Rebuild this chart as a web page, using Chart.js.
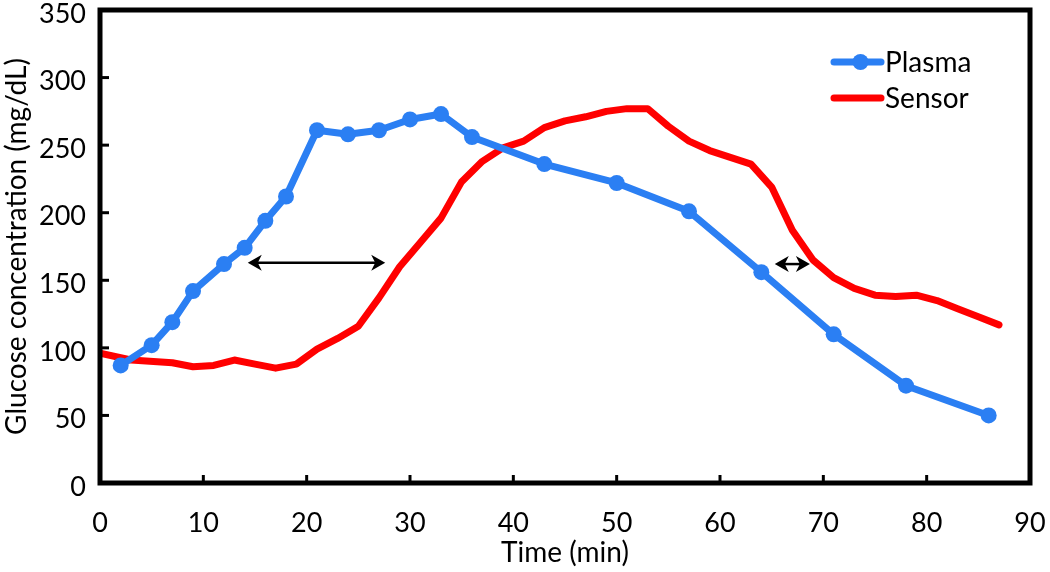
<!DOCTYPE html>
<html>
<head>
<meta charset="utf-8">
<script src="https://cdn.jsdelivr.net/npm/chart.js@4"></script>
<style>
  html, body { margin: 0; padding: 0; background: #fff; }
  #wrap { width: 1050px; height: 572px; }
</style>
</head>
<body>
<div id="wrap"><canvas id="glucoseChart" width="1050" height="572"></canvas></div>
<script>
// Plasma samples (min, mg/dL)
const plasmaTimes = [2, 5, 7, 9, 12, 14, 16, 18, 21, 24, 27, 30, 33, 36, 43, 50, 57, 64, 71, 78, 86];
const plasmaValues = [87, 102, 119, 142, 162, 174, 194, 212, 261, 258, 261, 269, 273, 256, 236, 222, 201, 156, 110, 72, 50];

// Sensor trace
const sensorTimes = [0, 3, 7, 9, 11, 13, 15, 17, 19, 21, 23, 25, 27, 29, 31, 33, 35, 37, 39, 41, 43, 45,
    47, 49, 51, 53, 55, 57, 59, 61, 63, 65, 67, 69, 71, 73, 75, 77, 79, 81, 83, 85, 87];
const sensorValues = [96, 91, 89, 86, 87, 91, 88, 85, 88, 99, 107, 116, 137, 160, 178, 196, 223, 238, 248, 253, 263, 268,
    271, 275, 277, 277, 264, 253, 246, 241, 236, 219, 187, 165, 152, 144, 139, 138, 139, 135, 129, 123, 117];

// Lag arrows (from, to, level)
const arrowFrom = [14.3, 65.3];
const arrowTo = [27.6, 68.7];
const arrowLevel = [163, 162];

// Axis ticks
const xTicks = [0, 10, 20, 30, 40, 50, 60, 70, 80, 90];
const yTicks = [0, 50, 100, 150, 200, 250, 300, 350];

const seriesNames = ['Plasma', 'Sensor'];
const BLUE = '#2b7ff3';
const RED = '#ff0000';
const FONT = 'Lato, "Open Sans", sans-serif';

function toPoints(xs, ys) {
    return xs.map((x, i) => ({ x: x, y: ys[i] }));
}

// frame, inward ticks, arrows and legend
const framePlugin = {
    id: 'frame',
    afterDatasetsDraw(chart) {
        const ctx = chart.ctx;
        const xs = chart.scales.x, ys = chart.scales.y;
        ctx.save();
        ctx.strokeStyle = '#000';
        ctx.fillStyle = '#000';
        ctx.lineWidth = 2.5;
        arrowFrom.forEach((from, i) => {
            const x1 = xs.getPixelForValue(from);
            const x2 = xs.getPixelForValue(arrowTo[i]);
            const y = ys.getPixelForValue(arrowLevel[i]);
            ctx.beginPath();
            ctx.moveTo(x1 + 4, y);
            ctx.lineTo(x2 - 4, y);
            ctx.stroke();
            [[x1, 1], [x2, -1]].forEach(([x, d]) => {
                ctx.beginPath();
                ctx.moveTo(x, y);
                ctx.lineTo(x + d * 14, y - 8);
                ctx.lineTo(x + d * 10, y);
                ctx.lineTo(x + d * 14, y + 8);
                ctx.closePath();
                ctx.fill();
            });
        });
        ctx.restore();
    },
    afterDraw(chart) {
        const ctx = chart.ctx;
        const a = chart.chartArea;
        const xs = chart.scales.x, ys = chart.scales.y;
        ctx.save();
        ctx.strokeStyle = '#000';
        ctx.lineWidth = 5;
        ctx.strokeRect(a.left, a.top, a.right - a.left, a.bottom - a.top);

        ctx.lineWidth = 3;
        xTicks.slice(1, -1).forEach(v => {
            const x = xs.getPixelForValue(v);
            ctx.beginPath();
            ctx.moveTo(x, a.bottom);
            ctx.lineTo(x, a.bottom - 8);
            ctx.stroke();
        });
        yTicks.slice(1, -1).forEach(v => {
            const y = ys.getPixelForValue(v);
            ctx.beginPath();
            ctx.moveTo(a.left, y);
            ctx.lineTo(a.left + 9, y);
            ctx.stroke();
        });

        // legend
        const lx = 834, lw = 47;
        const rows = [62, 98];
        ctx.lineCap = 'round';
        ctx.lineWidth = 7;
        chart.data.datasets.forEach((ds, i) => {
            const y = rows[i];
            ctx.strokeStyle = ds.borderColor;
            ctx.beginPath();
            ctx.moveTo(lx, y);
            ctx.lineTo(lx + lw, y);
            ctx.stroke();
            if (ds.pointRadius > 0) {
                ctx.fillStyle = ds.borderColor;
                ctx.beginPath();
                ctx.arc(lx + lw / 2 + 3, y, 8, 0, Math.PI * 2);
                ctx.fill();
            }
            ctx.fillStyle = '#000';
            ctx.font = '28px ' + FONT;
            ctx.textBaseline = 'middle';
            ctx.textAlign = 'left';
            ctx.fillText(seriesNames[i], lx + lw + 4, y + 1);
        });
        ctx.restore();
    }
};

const ctx = document.getElementById('glucoseChart').getContext('2d');

new Chart(ctx, {
    type: 'line',
    data: {
        datasets: [{
            label: seriesNames[0],
            data: toPoints(plasmaTimes, plasmaValues),
            borderColor: BLUE,
            backgroundColor: BLUE,
            borderWidth: 7,
            pointRadius: 8,
            pointBackgroundColor: BLUE,
            pointBorderWidth: 0,
            borderJoinStyle: 'round',
            tension: 0,
            fill: false
        }, {
            label: seriesNames[1],
            data: toPoints(sensorTimes, sensorValues),
            borderColor: RED,
            backgroundColor: RED,
            borderWidth: 7,
            pointRadius: 0,
            borderJoinStyle: 'round',
            borderCapStyle: 'round',
            tension: 0,
            fill: false
        }]
    },
    options: {
        responsive: false,
        animation: false,
        devicePixelRatio: 1,
        layout: {
            padding: { top: 10, right: 20, left: 0, bottom: 0 }
        },
        plugins: {
            legend: { display: false },
            tooltip: { enabled: false }
        },
        scales: {
            x: {
                type: 'linear',
                min: 0,
                max: 90,
                afterFit: function(scale) {
                    scale.height = 89;
                    scale.paddingLeft = 0;
                    scale.paddingRight = 0;
                },
                afterBuildTicks: function(scale) {
                    scale.ticks = xTicks.map(v => ({ value: v }));
                },
                grid: { display: false, drawTicks: false },
                border: { display: false },
                ticks: {
                    color: '#000',
                    padding: 24,
                    maxRotation: 0,
                    font: { family: FONT, size: 27 }
                },
                title: {
                    display: true,
                    text: 'Time (min)',
                    color: '#000',
                    padding: { top: 0, bottom: 2 },
                    font: { family: FONT, size: 28 }
                }
            },
            y: {
                type: 'linear',
                min: 0,
                max: 350,
                afterFit: function(scale) {
                    scale.width = 100;
                    scale.paddingTop = 0;
                    scale.paddingBottom = 0;
                },
                afterBuildTicks: function(scale) {
                    scale.ticks = yTicks.map(v => ({ value: v }));
                },
                grid: { display: false, drawTicks: false },
                border: { display: false },
                ticks: {
                    color: '#000',
                    padding: 14,
                    labelOffset: 4,
                    font: { family: FONT, size: 27 }
                },
                title: {
                    display: true,
                    text: 'Glucose concentration (mg/dL)',
                    color: '#000',
                    padding: { top: 0, bottom: 0 },
                    font: { family: FONT, size: 28 }
                }
            }
        }
    },
    plugins: [framePlugin]
});
</script>
</body>
</html>
